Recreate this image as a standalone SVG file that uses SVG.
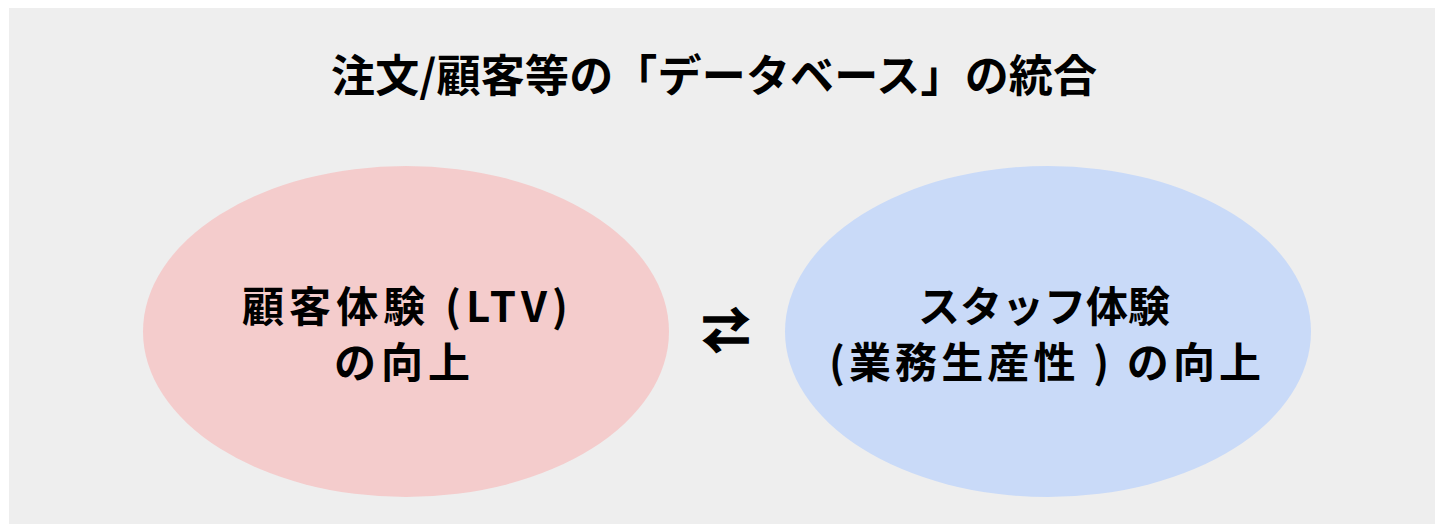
<svg xmlns="http://www.w3.org/2000/svg" width="1435" height="524" viewBox="0 0 1435 524">
<style>
.t{font-family:"Noto Sans CJK JP","Liberation Sans",sans-serif;font-weight:bold;fill:#000;text-anchor:middle}
</style>
<rect width="1435" height="524" fill="#ffffff"/>
<rect x="9" y="8" width="1426" height="516" fill="#eeeeee"/>
<g id="title"><text class="t" x="714" y="92" font-size="44" textLength="766" lengthAdjust="spacing">注文/顧客等の「データベース」の統合</text></g>
<g id="customer">
<ellipse cx="406" cy="331.5" rx="263" ry="165.5" fill="#f4cccc"/>
<text class="t" x="405" y="322" font-size="42" textLength="326" lengthAdjust="spacing">顧客体験 (LTV)</text>
<text class="t" x="402" y="378" font-size="42" textLength="136" lengthAdjust="spacing">の向上</text>
</g>
<g id="staff">
<ellipse cx="1048" cy="331.5" rx="263" ry="165.5" fill="#c9daf8"/>
<text class="t" x="1044" y="322" font-size="42">スタッフ体験</text>
<text class="t" x="1045" y="378" font-size="42" textLength="432" lengthAdjust="spacing">(業務生産性 ) の向上</text>
</g>
<g id="connectors">
<text class="t" x="726" y="348" font-size="48" font-family="DejaVu Sans" stroke="#000" stroke-width="1.5">⇄</text>
</g>
</svg>
